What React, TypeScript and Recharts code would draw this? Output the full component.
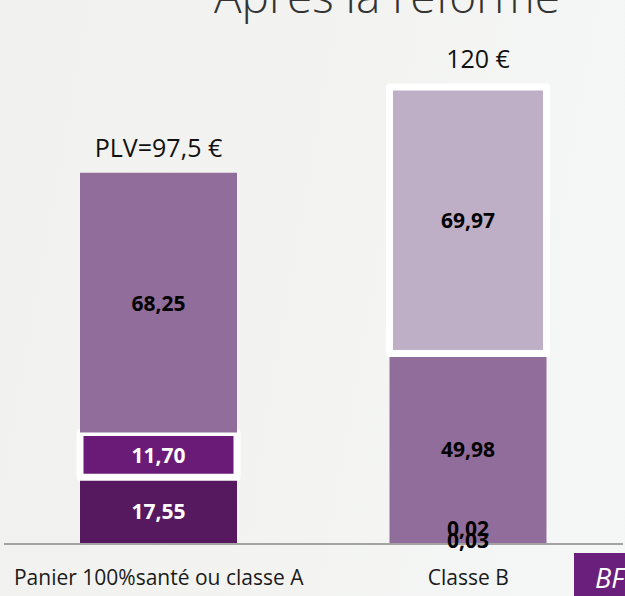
import { Bar, BarChart, Cell, LabelList, XAxis, YAxis } from 'recharts'

// Two baskets, stacked from the bottom up (values in €).
const categories = ['Panier 100%santé ou classe A', 'Classe B']
const baseShare = [17.55, 0.03]
const secondShare = [11.7, 0.02]
const mainShare = [68.25, 49.98]
const topShare = [0, 69.97]
const totalLabels = ['PLV=97,5 €', '120 €']

const data = categories.map((name, i) => ({
  name,
  base: baseShare[i],
  second: secondShare[i],
  main: mainShare[i],
  top: topShare[i],
}))

const FONT = '"Open Sans", "DejaVu Sans", sans-serif'

const COLORS = {
  base: '#56185f',
  second: '#6a1b77',
  main: '#906d9b',
  top: '#bfafc6',
}

// label colour per series, per category
const LABEL_FILL: Record<string, string[]> = {
  base: ['#ffffff', '#000000'],
  second: ['#ffffff', '#000000'],
  main: ['#000000', '#000000'],
  top: ['#000000', '#000000'],
}

// the two tiny values in Classe B are nudged apart so they can be read
const LABEL_DY: Record<string, number[]> = {
  base: [0, -4],
  second: [0, -16],
  main: [0, 0],
  top: [0, 0],
}

const fmt = (v: number) => v.toFixed(2).replace('.', ',')

function segmentLabel(key: string) {
  return (props: any) => {
    const { x, y, width, height, value, index } = props
    if (!value) return null
    return (
      <text
        x={Number(x) + Number(width) / 2}
        y={Number(y) + Number(height) / 2 + LABEL_DY[key][index]}
        textAnchor="middle"
        dominantBaseline="central"
        fontFamily={FONT}
        fontWeight={700}
        fontSize={21}
        fill={LABEL_FILL[key][index]}
      >
        {fmt(Number(value))}
      </text>
    )
  }
}

const TOTAL_DX = [0, 10]
const TOTAL_GAP = [16, 19]

// Totals sit above the whole stack. The top series is empty for the first
// basket (so it gets no label), so hang them off the "main" segment and lift
// them by the top segment's height, using the segment's own px-per-€ ratio.
function totalLabel(props: any) {
  const { x, y, width, height, value, index } = props
  const perUnit = Number(height) / Number(value)
  const stackTop = Number(y) - data[index].top * perUnit
  return (
    <text
      x={Number(x) + Number(width) / 2 + TOTAL_DX[index]}
      y={stackTop - TOTAL_GAP[index]}
      textAnchor="middle"
      fontFamily={FONT}
      fontSize={25}
      fill="#111111"
    >
      {totalLabels[index]}
    </text>
  )
}

function CategoryTick(props: any) {
  const { x, y, payload } = props
  return (
    <text
      x={x}
      y={y + 39}
      textAnchor="middle"
      fontFamily={FONT}
      fontSize={21}
      fill="#1a1a1a"
    >
      {payload.value}
    </text>
  )
}

export default function App() {
  return (
    <div
      style={{
        position: 'absolute',
        left: 0,
        top: 0,
        width: 625,
        height: 596,
        overflow: 'hidden',
        background: 'linear-gradient(100deg, #f1f2ef 0%, #f3f4f2 55%, #f5f7f7 100%)',
      }}
    >
      <BarChart
        width={625}
        height={596}
        data={data}
        margin={{ top: 87, right: 2, bottom: 0, left: 4 }}
        barSize={157}
      >
        <YAxis hide domain={[0, 120]} />
        <XAxis
          dataKey="name"
          height={52}
          tickLine={false}
          tickSize={0}
          axisLine={{ stroke: '#a3a3a3', strokeWidth: 2 }}
          tick={CategoryTick}
          interval={0}
        />
        <Bar dataKey="base" stackId="a" fill={COLORS.base} isAnimationActive={false}>
          <LabelList dataKey="base" content={segmentLabel('base')} />
        </Bar>
        <Bar dataKey="second" stackId="a" fill={COLORS.second} isAnimationActive={false}>
          {data.map((_, i) => (
            <Cell
              key={i}
              stroke={i === 0 ? '#ffffff' : 'none'}
              strokeWidth={7}
              strokeLinejoin="round"
            />
          ))}
          <LabelList dataKey="second" content={segmentLabel('second')} />
        </Bar>
        <Bar dataKey="main" stackId="a" fill={COLORS.main} isAnimationActive={false}>
          <LabelList dataKey="main" content={segmentLabel('main')} />
          <LabelList dataKey="main" content={totalLabel} />
        </Bar>
        <Bar dataKey="top" stackId="a" fill={COLORS.top} isAnimationActive={false}>
          {data.map((d, i) => (
            <Cell
              key={i}
              stroke={d.top ? '#ffffff' : 'none'}
              strokeWidth={7}
              strokeLinejoin="round"
            />
          ))}
          <LabelList dataKey="top" content={segmentLabel('top')} />
        </Bar>
      </BarChart>

      <svg
        width={625}
        height={596}
        style={{ position: 'absolute', left: 0, top: 0, pointerEvents: 'none' }}
      >
        <text
          x={387}
          y={13}
          textAnchor="middle"
          fontFamily={FONT}
          fontWeight={300}
          fontSize={46}
          fill="#333333"
        >
          Après la réforme
        </text>
        <rect x={574} y={553} width={51} height={43} fill="#6b1f7c" />
        <text
          x={595}
          y={588}
          fontFamily={FONT}
          fontStyle="italic"
          fontSize={27}
          fill="#ffffff"
        >
          BF
        </text>
      </svg>
    </div>
  )
}
